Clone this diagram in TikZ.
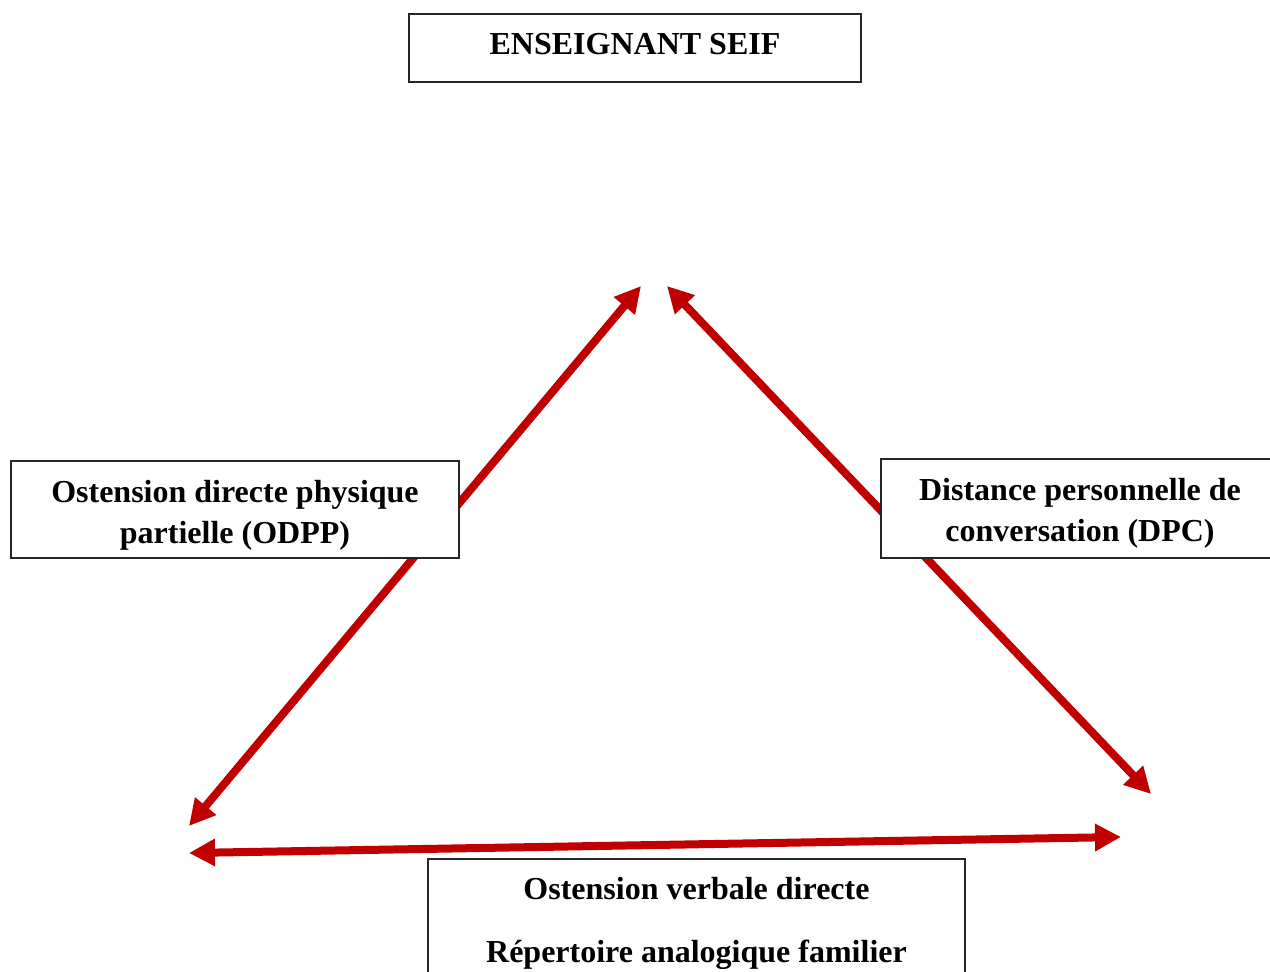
\documentclass[tikz,border=0pt]{standalone}
\usepackage{fontspec}
\setmainfont{Liberation Serif}
\usetikzlibrary{arrows.meta}
\definecolor{arrowred}{HTML}{C00000}
\begin{document}
\begin{tikzpicture}[x=1pt,y=-1pt,
  box/.style={draw=black!85, line width=1.8pt, fill=white, inner sep=0pt,
    align=center, font=\fontsize{32}{41}\selectfont\bfseries},
  link/.style={draw=arrowred, line width=8pt,
    {Triangle[length=26pt,width=26pt]}-{Triangle[length=26pt,width=26pt]}}]
\useasboundingbox (0,0) rectangle (1270,972);
\clip (0,0) rectangle (1270,972);
\fill[white] (0,0) rectangle (1270,972);
% arrow tips
\coordinate (tl1) at (189,826);
\coordinate (tl2) at (641,286);
\coordinate (tr1) at (667,286);
\coordinate (tr2) at (1151,794);
\coordinate (tb1) at (189,853);
\coordinate (tb2) at (1121,837);
\draw[link] (tl1) -- (tl2);
\draw[link] (tr1) -- (tr2);
\draw[link] (tb1) -- (tb2);
% boxes
\node[box, minimum width=452, minimum height=68, text depth=8pt] (ens) at (635,48) {ENSEIGNANT SEIF};
\node[box, minimum width=448, minimum height=97] (odpp) at (235,509.5) {\rule{0pt}{34pt}Ostension directe physique\\partielle (ODPP)};
\node[box, minimum width=398, minimum height=99] (dpc) at (1080,508.5) {\rule{0pt}{32pt}Distance personnelle de\\conversation (DPC)};
\node[box, anchor=north, minimum width=537, inner ysep=18pt] (ovd) at (696.5,858) {Ostension verbale directe\\[22pt]Répertoire analogique familier};
\end{tikzpicture}
\end{document}
